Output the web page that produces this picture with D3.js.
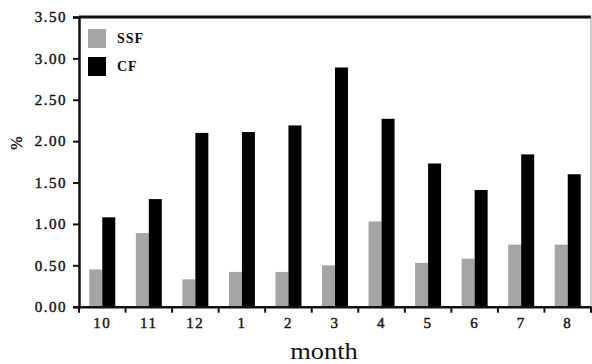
<!DOCTYPE html>
<html><head><meta charset="utf-8">
<script src="https://cdn.jsdelivr.net/npm/d3@7"></script>
<style>body{margin:0;background:#fff}svg{display:block}text{font-family:"Liberation Serif","Times New Roman",serif;fill:#111}</style>
</head><body>
<script>
const months = ["10","11","12","1","2","3","4","5","6","7","8"];
const ssf = [0.45,0.89,0.33,0.42,0.42,0.50,1.03,0.53,0.58,0.75,0.75];
const cf = [1.08,1.30,2.10,2.11,2.19,2.89,2.27,1.73,1.41,1.84,1.60];
const yTicks = [0,0.5,1,1.5,2,2.5,3,3.5];
const seriesNames = ["SSF","CF"];
const colors = ["#a5a5a5","#000000"];

const W=592,H=364;
const svg=d3.select("body").append("svg").attr("width",W).attr("height",H);
const L=79,R=591,T=17,B=306.7;
const x=d3.scaleBand().domain(months).range([L,R]).paddingInner(0).paddingOuter(0);
const y=d3.scaleLinear().domain([0,3.5]).range([B,T]);
const sub=d3.scaleBand().domain(seriesNames).range([0,26]);
const off=(x.bandwidth()-26)/2;

svg.append("line").attr("x1",L).attr("x2",R).attr("y1",T).attr("y2",T).attr("stroke","#111").attr("stroke-width",3);
svg.append("line").attr("x1",R).attr("x2",R).attr("y1",T).attr("y2",B).attr("stroke","#999").attr("stroke-width",1);

const data=months.map((m,i)=>({m,v:[ssf[i],cf[i]]}));
const g=svg.append("g");
data.forEach(d=>{
  seriesNames.forEach((s,j)=>{
    g.append("rect").attr("x",x(d.m)+off+sub(s)).attr("width",sub.bandwidth())
     .attr("y",y(d.v[j])).attr("height",B-y(d.v[j])).attr("fill",colors[j]);
  });
});

function styleTicks(sel){
  sel.attr("font-size",15).attr("font-weight","normal").attr("letter-spacing","1.5px")
   .attr("fill","#1a1a1a").attr("stroke","#1a1a1a").attr("stroke-width",0.45)
   .style("font-family","Liberation Serif, serif");
}
const ya=svg.append("g").attr("transform",`translate(${L},0)`)
 .call(d3.axisLeft(y).tickValues(yTicks).tickFormat(d3.format(".2f")).tickSize(6).tickPadding(6));
ya.select(".domain").attr("stroke","#111").attr("stroke-width",2.5);
ya.selectAll(".tick line").attr("stroke","#111").attr("stroke-width",2);
styleTicks(ya.selectAll(".tick text"));

const xa=svg.append("g").attr("transform",`translate(0,${B})`)
 .call(d3.axisBottom(x).tickSize(0).tickPadding(11));
xa.select(".domain").attr("stroke","#111").attr("stroke-width",2.5);
styleTicks(xa.selectAll(".tick text"));
const seps=months.map(m=>x(m)).concat([R]);
svg.append("g").selectAll("line").data(seps).join("line")
 .attr("x1",d=>d).attr("x2",d=>d).attr("y1",B).attr("y2",B+6).attr("stroke","#111").attr("stroke-width",2);

svg.append("text").attr("transform","translate(324,359) scale(1.15,1)").attr("text-anchor","middle")
 .attr("font-size",23).text("month");
svg.append("text").attr("transform","translate(22,143) rotate(-90)").attr("text-anchor","middle")
 .attr("font-size",16).attr("stroke","#111").attr("stroke-width",0.3).text("%");

const lg=svg.append("g");
seriesNames.forEach((s,j)=>{
  lg.append("rect").attr("x",88).attr("y",29+j*28).attr("width",18).attr("height",19).attr("fill",colors[j]);
  lg.append("text").attr("x",117).attr("y",43+j*28).attr("font-size",14).attr("font-weight","bold").attr("letter-spacing","1px").text(s);
});
</script>
</body></html>
